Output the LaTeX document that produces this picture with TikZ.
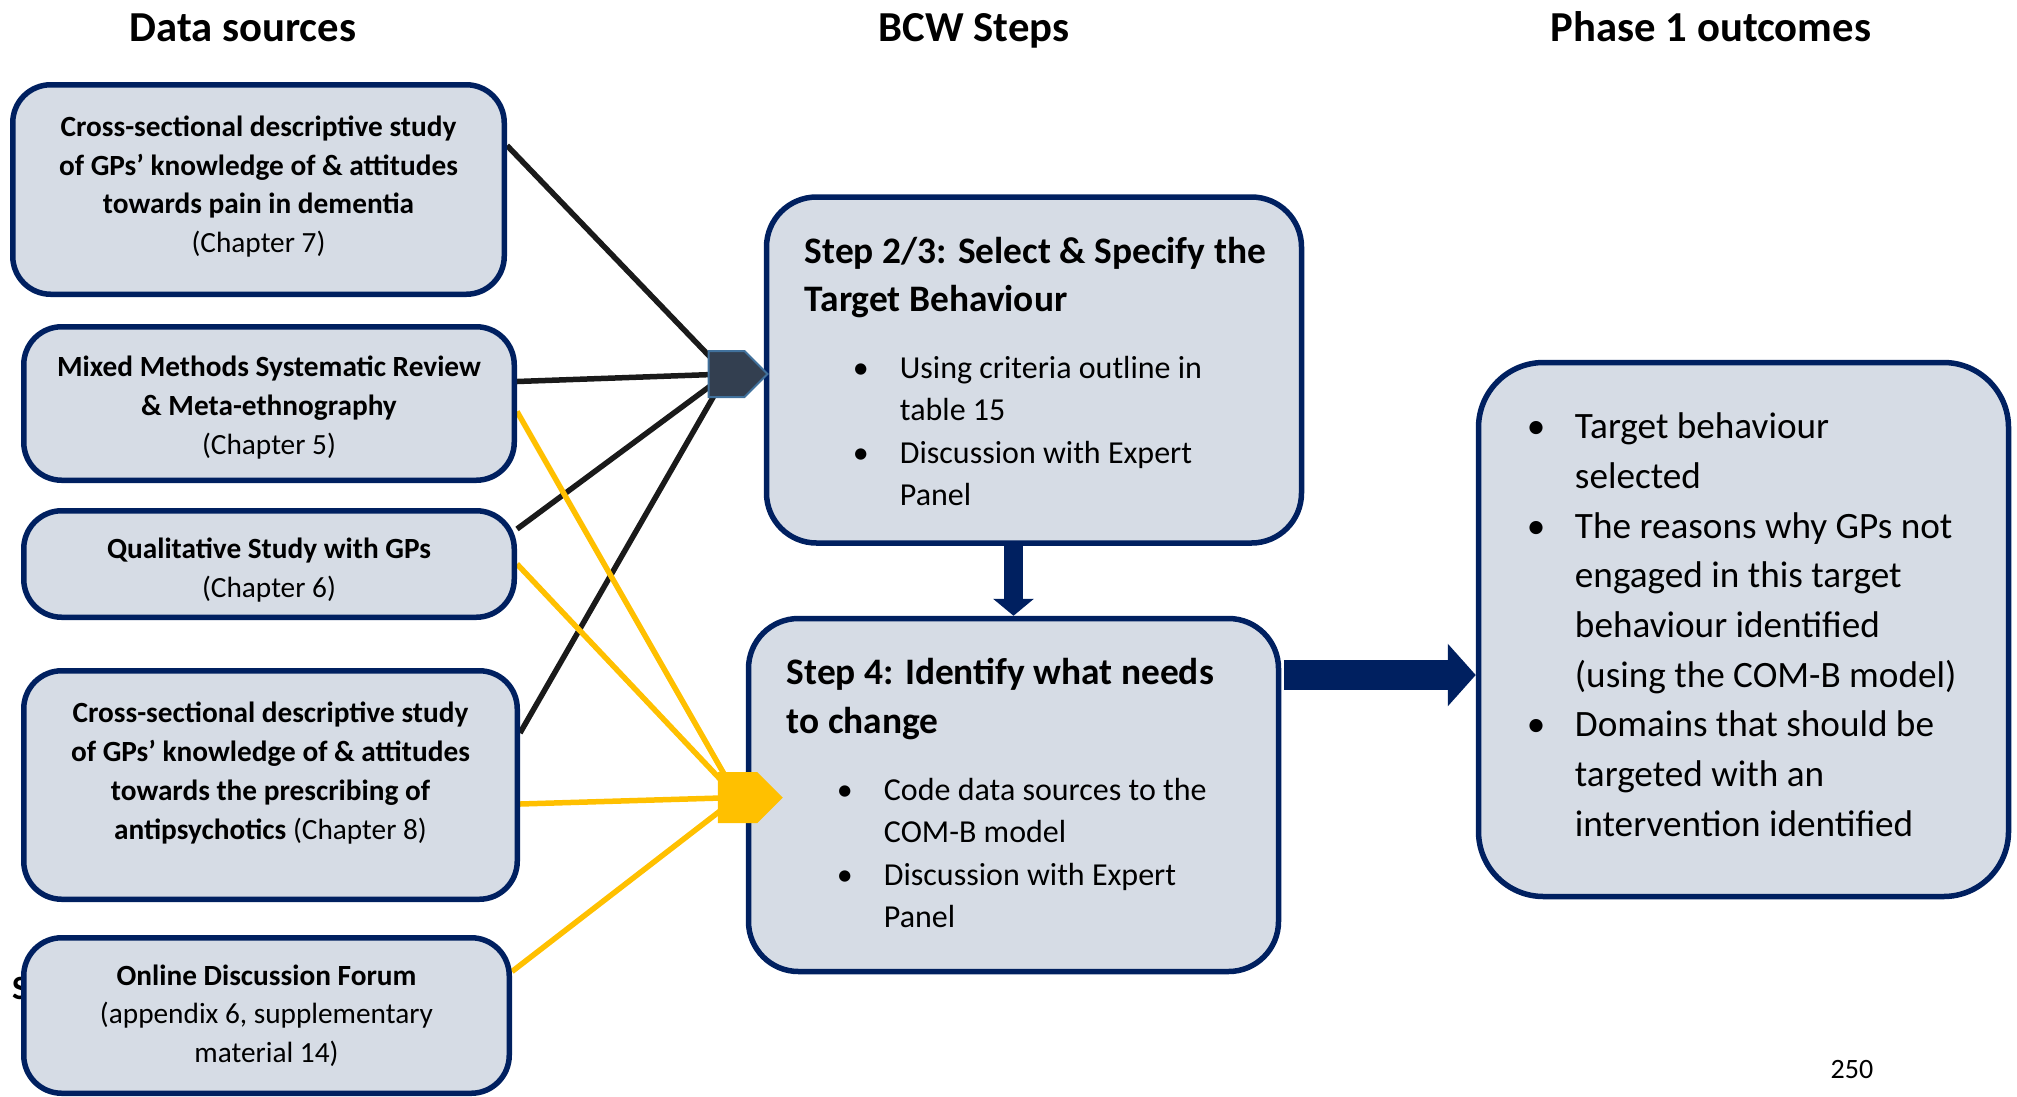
\documentclass[tikz,border=0pt]{standalone}
\usepackage{fontspec}
\setmainfont{Carlito}
\usetikzlibrary{positioning,shapes.symbols,arrows.meta,backgrounds}

\definecolor{boxfill}{HTML}{D6DCE5}
\definecolor{navy}{HTML}{002060}
\definecolor{hubslate}{HTML}{333F50}
\definecolor{hubedge}{HTML}{41719C}
\definecolor{gold}{HTML}{FFC000}
\definecolor{inkline}{HTML}{1A1A1A}

\newcommand{\bul}{\textbullet}

\begin{document}
\begin{tikzpicture}[x=1pt, y=-1pt,
	srcbox/.style={draw=navy, fill=boxfill, line width=5.5pt, rounded corners=38pt, inner sep=0pt},
	srctext/.style={inner sep=0pt, align=center, font=\fontsize{29.3}{38.7}\selectfont\bfseries},
	stepbox/.style={draw=navy, fill=boxfill, line width=5.5pt, rounded corners=50pt, inner sep=0pt},
	outbox/.style={draw=navy, fill=boxfill, line width=5.5pt, rounded corners=65pt, inner sep=0pt},
	headtext/.style={inner sep=0pt, anchor=base west, font=\fontsize{37.4}{48.5}\selectfont\bfseries},
	listtext/.style={inner sep=0pt, anchor=base west, font=\fontsize{32}{42.5}\selectfont},
	outtext/.style={inner sep=0pt, anchor=base west, font=\fontsize{37.2}{49.7}\selectfont},
	coltitle/.style={inner sep=0pt, anchor=base, font=\fontsize{42.7}{50}\selectfont\bfseries},
	hub/.style={signal, signal to=east, signal pointer angle=90, inner sep=0pt},
	darkline/.style={draw=inkline, line width=5.5pt},
	goldline/.style={draw=gold, line width=5.5pt},
	flowarrow/.style={draw=navy}
]
	\useasboundingbox (0,0) rectangle (2017,1096);

	\node[coltitle] (titlesrc) at (243,41) {Data sources};
	\node[coltitle] (titlebcw) at (974,41) {BCW Steps};
	\node[coltitle] (titleout) at (1711,41) {Phase 1 outcomes};

	\node[inner sep=0pt, anchor=base west, font=\fontsize{34}{40}\selectfont\bfseries] (stray) at (12,999) {S};

	\node[srcbox, minimum width=491.5, minimum height=209.5] (srcpain) at (258.5,189.5) {};
	\node[srctext] (srcpaintext) at ([yshift=3pt]srcpain.center) {Cross-sectional descriptive study\\of GPs’ knowledge of \& attitudes\\towards pain in dementia\\\mdseries(Chapter 7)};
	\node[srcbox, minimum width=490.5, minimum height=153.5] (srcreview) at (269,403.5) {};
	\node[srctext] (srcreviewtext) at ([yshift=-4pt]srcreview.center) {Mixed Methods Systematic Review\\\& Meta-ethnography\\\mdseries(Chapter 5)};
	\node[srcbox, minimum width=490.5, minimum height=106.5] (srcqual) at (269,564) {};
	\node[srctext] (srcqualtext) at ([yshift=-6pt]srcqual.center) {Qualitative Study with GPs\\\mdseries(Chapter 6)};
	\node[srcbox, minimum width=493.5, minimum height=228.5] (srcanti) at (270.5,785) {};
	\node[srctext] (srcantitext) at ([yshift=12pt]srcanti.center) {Cross-sectional descriptive study\\of GPs’ knowledge of \& attitudes\\towards the prescribing of\\antipsychotics {\mdseries(Chapter 8)}};
	\node[srcbox, minimum width=485.5, minimum height=155.5] (srcforum) at (266.5,1015.5) {};
	\node[srctext] (srcforumtext) at (srcforum.center) {Online Discussion Forum\\\mdseries(appendix 6, supplementary\\\mdseries material 14)};

	\node[stepbox, minimum width=535, minimum height=346] (step23) at (1034,370) {};
	\node[headtext] (step23head) at ([xshift=41pt,yshift=-69pt]step23.north west) {\begin{tabular}[t]{@{}l@{}}Step 2/3: Select \& Specify the\\Target Behaviour\end{tabular}};
	\node[listtext] (step23list) at ([xshift=89pt,yshift=-184pt]step23.north west) {\begin{tabular}[t]{@{}p{47pt}@{}l@{}}
		\bul & Using criteria outline in\\
		 & table 15\\
		\bul & Discussion with Expert\\
		 & Panel
	\end{tabular}};

	\node[stepbox, minimum width=530, minimum height=353] (step4) at (1013.5,795) {};
	\node[headtext] (step4head) at ([xshift=41pt,yshift=-69pt]step4.north west) {\begin{tabular}[t]{@{}l@{}}Step 4: Identify what needs\\to change\end{tabular}};
	\node[listtext] (step4list) at ([xshift=91pt,yshift=-184.5pt]step4.north west) {\begin{tabular}[t]{@{}p{47pt}@{}l@{}}
		\bul & Code data sources to the\\
		 & COM-B model\\
		\bul & Discussion with Expert\\
		 & Panel
	\end{tabular}};

	\node[outbox, minimum width=530, minimum height=534] (outcomes) at (1743.5,629.5) {};
	\node[outtext] (outlist) at ([xshift=51pt,yshift=-79pt]outcomes.north west) {\begin{tabular}[t]{@{}p{48pt}@{}l@{}}
		\bul & Target behaviour\\
		 & selected\\
		\bul & The reasons why GPs not\\
		 & engaged in this target\\
		 & behaviour identified\\
		 & (using the COM-B model)\\
		\bul & Domains that should be\\
		 & targeted with an\\
		 & intervention identified
	\end{tabular}};

	\node[hub, draw=hubedge, fill=hubslate, line width=2pt, minimum width=59, minimum height=46] (hubdark) at (726.5,374) {};
	\node[hub, fill=gold, minimum width=65, minimum height=51] (hubgold) at (737.5,797.5) {};

	\begin{scope}[on background layer]
		\draw[darkline] ([yshift=44pt]srcpain.east) -- (hubdark.center);
		\draw[darkline] ([yshift=22pt]srcreview.east) -- (hubdark.center);
		\draw[darkline] ([yshift=35pt]srcqual.east) -- (hubdark.center);
		\draw[darkline] ([yshift=52pt]srcanti.east) -- (hubdark.center);
		\draw[goldline] ([yshift=-8pt]srcreview.east) -- (hubgold.center);
		\draw[goldline] ([yshift=0pt]srcqual.east) -- (hubgold.center);
		\draw[goldline] ([yshift=-19pt]srcanti.east) -- (hubgold.center);
		\draw[goldline] ([yshift=44pt]srcforum.east) -- (hubgold.center);
	\end{scope}

	\draw[flowarrow, line width=19pt, -{Triangle[width=40pt,length=17pt]}] (step4.north |- step23.south) -- (step4.north);
	\coordinate (arrowstart) at ([xshift=3pt,yshift=120pt]step4.east);
	\draw[flowarrow, line width=30pt, -{Triangle[width=61pt,length=28pt]}] (arrowstart) -- (arrowstart -| outcomes.west);

	\node[inner sep=0pt, font=\fontsize{28}{32}\selectfont] (pagenum) at (1852,1069) {250};
\end{tikzpicture}
\end{document}
